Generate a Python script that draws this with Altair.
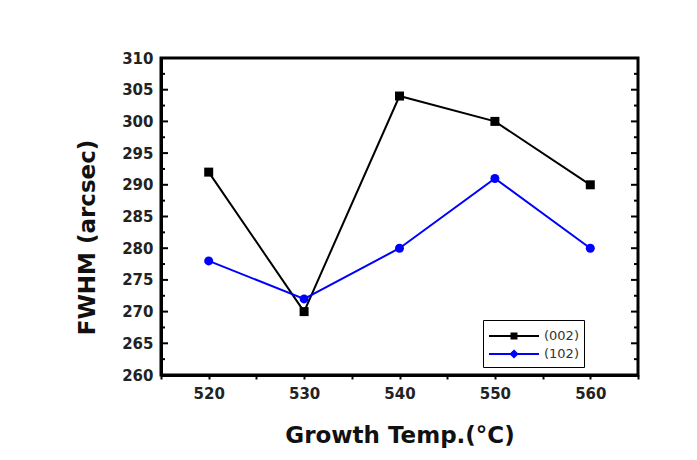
import altair as alt
import pandas as pd

temps = [520, 530, 540, 550, 560]
fwhm_002 = [292, 270, 304, 300, 290]
fwhm_102 = [278, 272, 280, 291, 280]
series_names = ["(002)", "(102)"]
series_colors = ["black", "#0000ff"]
legend_paths = ["M-1,0H4M1.25,-0.25H1.75V0.25H1.25ZM1.4,-0.1H1.6V0.1H1.4Z",
                "M-1,0H4M1.5,-0.32L1.82,0L1.5,0.32L1.18,0ZM1.5,-0.12L1.62,0L1.5,0.12L1.38,0Z"]

y_major = [260, 265, 270, 275, 280, 285, 290, 295, 300, 305, 310]
y_minor = [262.5, 267.5, 272.5, 277.5, 282.5, 287.5, 292.5, 297.5, 302.5, 307.5]
x_ticks = [515, 520, 525, 530, 535, 540, 545, 550, 555, 560, 565]

W, H = 477, 317
FONT = "DejaVu Sans"

df = pd.DataFrame({
    "temp": temps * 2,
    "fwhm": fwhm_002 + fwhm_102,
    "series": [series_names[0]] * len(temps) + [series_names[1]] * len(temps),
})

xscale = alt.Scale(domain=[515, 565], nice=False, zero=False)
yscale = alt.Scale(domain=[260, 310], nice=False, zero=False)
cscale = alt.Scale(domain=series_names, range=series_colors)

legend = alt.Legend(
    orient="none", legendX=322, legendY=262, title=None,
    strokeColor="black", fillColor="white", padding=5,
    labelFont=FONT, labelFontSize=13, labelColor="#333",
    symbolSize=400, symbolStrokeWidth=2, labelOffset=34, rowPadding=0,
)

x_axis = alt.Axis(
    values=x_ticks, labelExpr="datum.value % 10 == 0 && datum.value > 515 && datum.value < 565 ? datum.label : ''",
    tickSize=4, tickWidth=2, tickColor="black", domainWidth=3, domainColor="black",
    labelFont=FONT, labelFontSize=15, labelFontWeight="bold", labelColor="#222", labelPadding=7,
    title="Growth Temp.(°C)", titleFont=FONT, titleFontSize=23, titleFontWeight="bold",
    titleColor="#111", titleY=67, titleBaseline="alphabetic", grid=False,
)
y_axis = alt.Axis(
    values=y_major, ticks=False, domainWidth=3, domainColor="black",
    labelFont=FONT, labelFontSize=15, labelFontWeight="bold", labelColor="#222", labelPadding=8,
    title="FWHM (arcsec)", titleFont=FONT, titleFontSize=23, titleFontWeight="bold",
    titleColor="#111", titleX=-74, titleY=179, titleBaseline="middle", titleAlign="center",
    titleAngle=270, grid=False,
)

base = alt.Chart(df)
lines = base.mark_line(strokeWidth=2).encode(
    x=alt.X("temp:Q", scale=xscale, axis=x_axis),
    y=alt.Y("fwhm:Q", scale=yscale, axis=y_axis),
    color=alt.Color("series:N", scale=cscale, legend=None),
)
points = base.mark_point(filled=True, size=81, opacity=1).encode(
    x=alt.X("temp:Q", scale=xscale, axis=x_axis),
    y=alt.Y("fwhm:Q", scale=yscale, axis=y_axis),
    color=alt.Color("series:N", scale=cscale, legend=None),
    shape=alt.Shape("series:N", scale=alt.Scale(domain=series_names, range=["square", "circle"]), legend=None),
)
legend_layer = base.transform_filter("false").mark_point(filled=False, size=400, strokeWidth=2, opacity=1).encode(
    x=alt.X("temp:Q", scale=xscale, axis=x_axis),
    y=alt.Y("fwhm:Q", scale=yscale, axis=y_axis),
    color=alt.Color("series:N", scale=cscale, legend=legend),
    shape=alt.Shape("series:N", scale=alt.Scale(domain=series_names, range=legend_paths), legend=legend),
)

maj = pd.DataFrame({"fwhm": y_major})
mnr = pd.DataFrame({"fwhm": y_minor})
def tick_rule(d, x0, x1):
    return alt.Chart(d).mark_rule(color="black", strokeWidth=2).encode(
        y=alt.Y("fwhm:Q", scale=yscale, axis=y_axis), x=alt.value(x0), x2=alt.value(x1))

left_major = tick_rule(maj, 0, 7)
left_minor = tick_rule(mnr, 0, 4)
right_major = tick_rule(maj, W - 7, W)
right_minor = tick_rule(mnr, W - 4, W)

chart = alt.layer(lines, points, legend_layer, left_major, left_minor, right_major, right_minor).resolve_scale(
    shape="independent", color="independent"
).properties(
    width=W, height=H,
    autosize=alt.AutoSizeParams(type="none"),
    padding={"left": 153, "top": 50, "right": 51, "bottom": 77},
    background="white",
).configure_view(stroke="black", strokeWidth=3)

chart.save("out.html", embed_options={"renderer": "svg", "actions": False})
